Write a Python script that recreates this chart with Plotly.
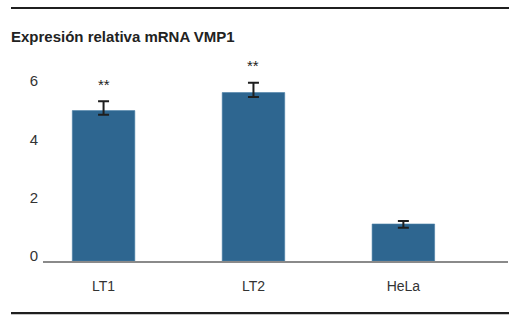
import plotly.graph_objects as go

# ---- data ----
categories = ["LT1", "LT2", "HeLa"]
values = [5.16, 5.78, 1.27]
errors_plus = [0.32, 0.34, 0.10]
errors_minus = [0.14, 0.15, 0.13]
significance = ["**", "**", ""]
y_tick_values = [0, 2, 4, 6]
title_text = "Expresión relativa mRNA VMP1"

# ---- layout geometry (pixels) ----
W, H = 517, 328
PL, PR = 43, 508          # plot area left/right
PB = 261                  # plot area bottom (x axis line)
PX_PER_UNIT = 29.2
Y_MAX = 7.0
PT = PB - Y_MAX * PX_PER_UNIT

def px_x(px):
    return (px - PL) / (PR - PL)

def px_y(py):
    return (PB - py) / (PB - PT)

FONT = "Liberation Sans, Arial, sans-serif"
BAR_COLOR = "#2e6690"

fig = go.Figure()
fig.add_trace(go.Bar(
    x=categories,
    y=values,
    width=0.417,
    marker=dict(color=BAR_COLOR, line=dict(color="#4a7fa6", width=0.6)),
    error_y=dict(type="data", array=errors_plus, arrayminus=errors_minus,
                 symmetric=False, visible=True,
                 color="#1e1e1e", thickness=2, width=5.5),
    showlegend=False,
    hoverinfo="skip",
))

for c, v, e, s in zip(categories, values, errors_plus, significance):
    if s:
        fig.add_annotation(x=c, y=v + e, text=s, showarrow=False,
                           yanchor="middle", yshift=17,
                           font=dict(family=FONT, size=15, color="#222222"))

# horizontal rules (top and bottom)
for py in (7.5, 313.3):
    fig.add_shape(type="line", xref="paper", yref="paper",
                  x0=px_x(11), x1=px_x(509), y0=px_y(py), y1=px_y(py),
                  line=dict(color="#1f1f1f", width=2.2))

fig.update_layout(
    width=W, height=H,
    margin=dict(l=PL, r=W - PR, t=PT, b=H - PB, pad=0),
    paper_bgcolor="white", plot_bgcolor="white",
    title=dict(text="<b>" + title_text + "</b>", x=11 / W, xanchor="left",
               y=1 - 37 / H, yanchor="middle", xref="container",
               font=dict(family=FONT, size=15, color="#222222")),
    xaxis=dict(
        type="category", range=[-0.404, 2.698],
        showline=True, linecolor="#8a8a8a", linewidth=1.5,
        showgrid=False, zeroline=False, ticks="",
        tickfont=dict(family=FONT, size=14, color="#333333"),
        ticklabelstandoff=11,
    ),
    yaxis=dict(
        range=[0, Y_MAX], tickvals=y_tick_values,
        showline=False, showgrid=False, zeroline=False, ticks="",
        tickfont=dict(family=FONT, size=15, color="#333333"),
        ticklabelshift=-5, ticklabelstandoff=4,
    ),
)

fig.write_html("out.html", config={"displayModeBar": False},
               post_script="document.body.style.margin='0';")
